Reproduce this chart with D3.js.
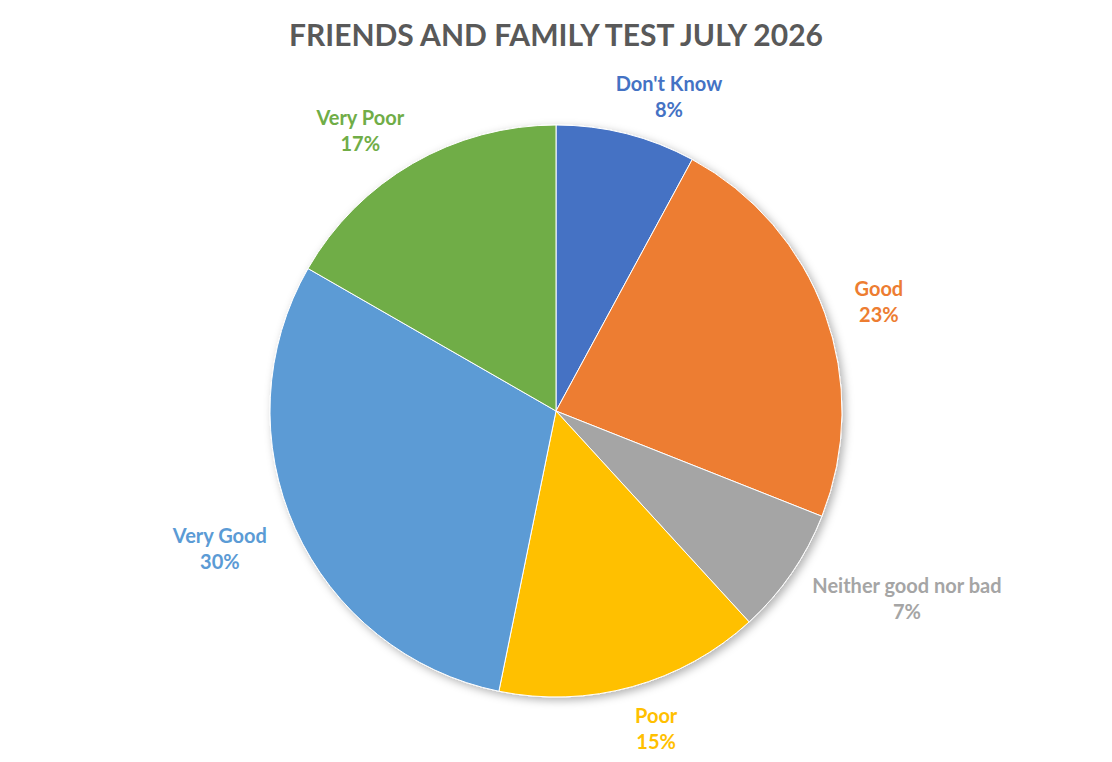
<!DOCTYPE html>
<html><head><meta charset="utf-8">
<script src="https://cdn.jsdelivr.net/npm/d3@7"></script>
<style>body{margin:0;background:#fff}svg{display:block}</style>
</head><body>
<svg id="chart" width="1112" height="762"></svg>
<script>
const categories = ["Don't Know", "Good", "Neither good nor bad", "Poor", "Very Good", "Very Poor"];
const values = [7.9, 23.1, 7.2, 15.0, 30.1, 16.7];
const colors = ["#4472C4", "#ED7D31", "#A5A5A5", "#FFC000", "#5B9BD5", "#70AD47"];
const title = "FRIENDS AND FAMILY TEST JULY 2026";

const W = 1112, H = 762;
const cx = 556, cy = 411, r = 286;
const FONT = "Lato, 'Open Sans', sans-serif";
const svg = d3.select("#chart");

const defs = svg.append("defs");
const f = defs.append("filter").attr("id", "shadow").attr("x", "-20%").attr("y", "-20%").attr("width", "140%").attr("height", "140%");
f.append("feDropShadow").attr("dx", 3).attr("dy", 3).attr("stdDeviation", 4).attr("flood-color", "#000").attr("flood-opacity", 0.3);

svg.append("text").attr("x", cx).attr("y", 46).attr("text-anchor", "middle")
  .attr("font-family", FONT).attr("font-weight", 700).attr("font-size", 30)
  .attr("fill", "#595959").text(title);

const data = categories.map((c, i) => ({ cat: c, value: values[i], color: colors[i] }));
const total = d3.sum(values);
const pie = d3.pie().value(d => d.value).sort(null);
const arc = d3.arc().innerRadius(0).outerRadius(r);
const arcs = pie(data);

const g = svg.append("g").attr("transform", `translate(${cx},${cy})`);
g.append("g").attr("filter", "url(#shadow)")
  .selectAll("path").data(arcs).join("path")
  .attr("d", arc).attr("fill", d => d.data.color)
  .attr("stroke", "#fff").attr("stroke-width", 1);

const fs = 20, lh = 26;
const labels = g.selectAll("g.lbl").data(arcs).join("g").attr("class", "lbl");
labels.each(function (d) {
  const sel = d3.select(this);
  const t = sel.append("text").attr("text-anchor", "middle")
    .attr("font-family", FONT).attr("font-weight", 700).attr("font-size", fs)
    .attr("fill", d.data.color);
  t.append("tspan").attr("x", 0).attr("dy", 0).text(d.data.cat);
  t.append("tspan").attr("x", 0).attr("dy", lh).text(Math.round(d.data.value / total * 100) + "%");
  const bb = t.node().getBBox();
  const w = bb.width, h = 22;
  const a = (d.startAngle + d.endAngle) / 2;
  const s = Math.sin(a), c = -Math.cos(a);
  const R = r + 30;
  const x = R * s + Math.cbrt(s) * w / 2 + 2 * Math.sign(s);
  const y = R * c + c * h / 2 + 3;
  sel.attr("transform", `translate(${x},${y - lh / 2 + fs * 0.35})`);
});
</script>
</body></html>
